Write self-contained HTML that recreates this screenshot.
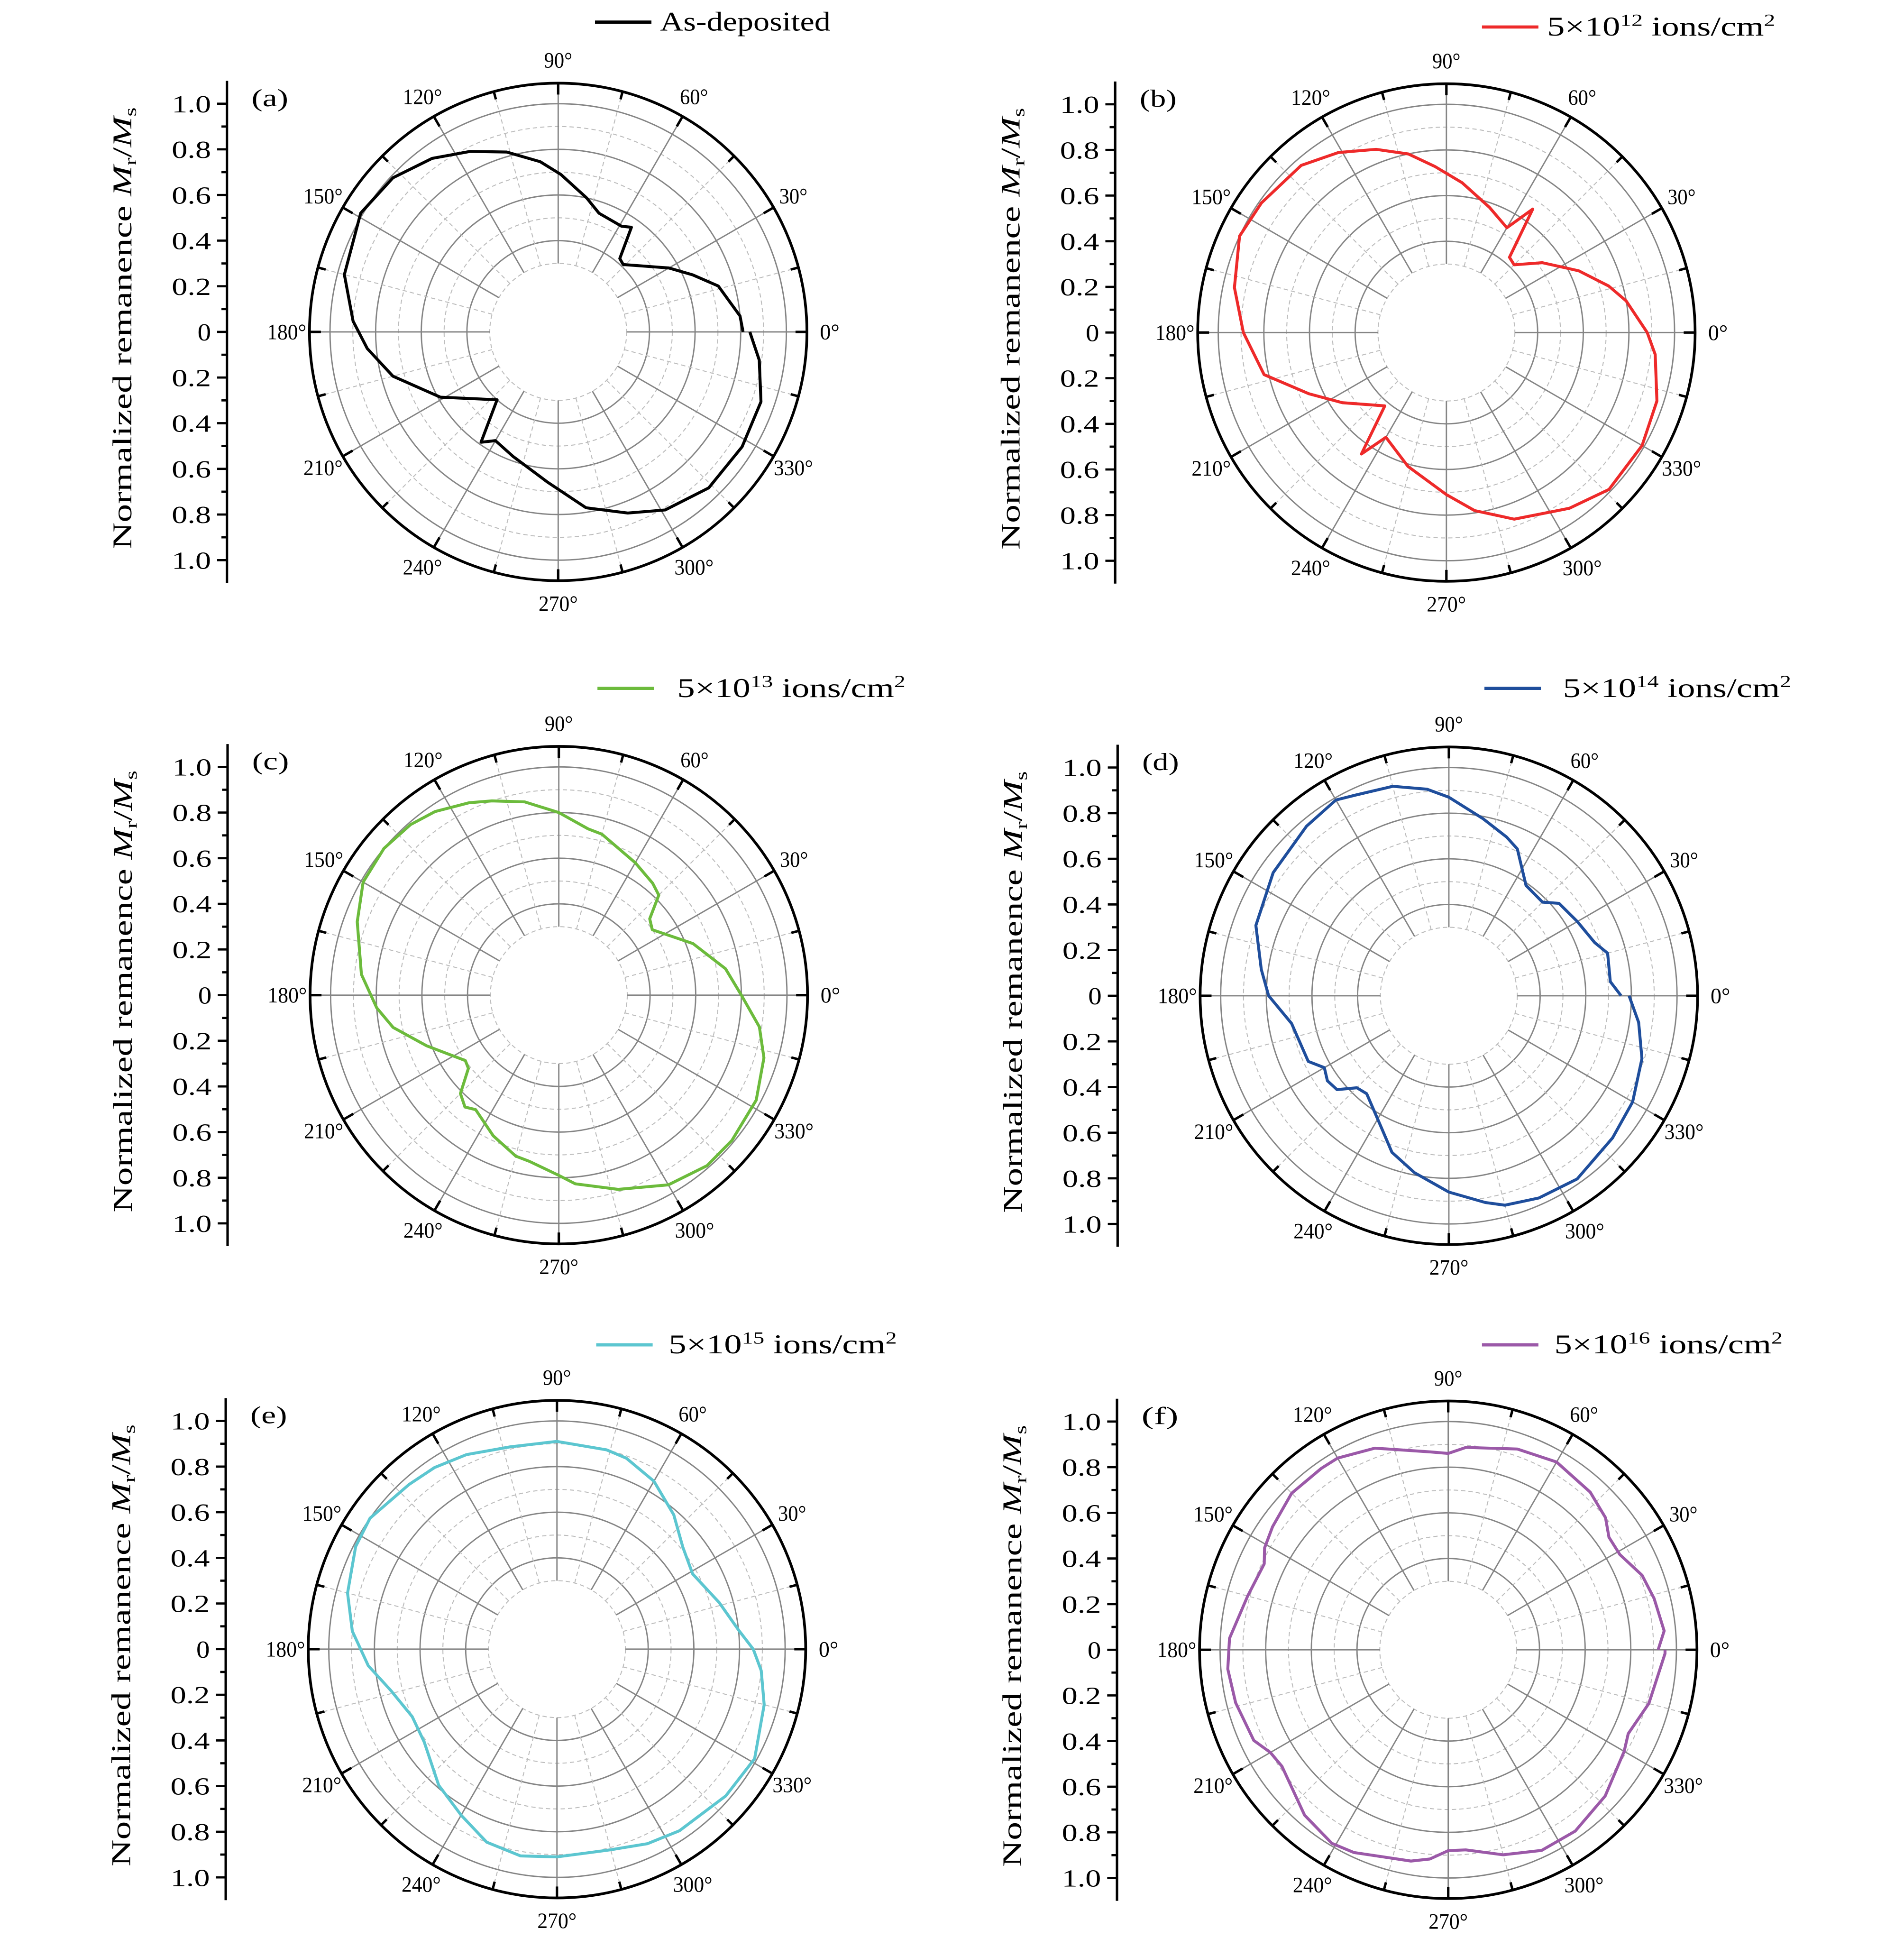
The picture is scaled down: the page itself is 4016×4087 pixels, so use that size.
<!DOCTYPE html>
<html><head><meta charset="utf-8">
<style>
html,body{margin:0;padding:0;background:#fff;}
svg{display:block;}
text{font-family:"Liberation Serif",serif;fill:#000;}
</style></head>
<body>
<svg id="fig" width="4016" height="4087" viewBox="0 0 1552 1579.4" preserveAspectRatio="none" xmlns="http://www.w3.org/2000/svg"></svg>
<script>
// ---- data (angle in degrees, normalized remanence) ----
const angA = [0,5,16,23,30,46,50,55,59,71,78,89,96,106,116,126,137,149,165,177,185,195,209,228,235,240,250,266,279,291,301,314,328,341,352,360];
const valA = [0.81,0.80,0.73,0.64,0.56,0.41,0.42,0.56,0.54,0.55,0.60,0.69,0.75,0.82,0.88,0.94,0.99,1.01,0.97,0.90,0.84,0.75,0.59,0.40,0.59,0.55,0.58,0.66,0.78,0.85,0.91,0.95,0.95,0.94,0.89,0.84];
const angB = [0,10,16,25,36,45,50,55,60,71,84,94,102,111,121,131,145,155,168,180,193,204,214,230,235,240,254,270,279,290,305,316,330,342,354,360];
const valB = [0.88,0.80,0.74,0.64,0.52,0.42,0.43,0.66,0.53,0.58,0.66,0.73,0.80,0.86,0.92,0.97,0.99,1.00,0.95,0.89,0.82,0.66,0.55,0.42,0.65,0.53,0.61,0.71,0.79,0.87,0.94,0.99,0.99,0.97,0.92,0.88];
const angC = [0,9,21,35,40,45,50,60,75,80,90,100,109,115,124,131,140,150,160,174,184,191,201,215,219,225,230,234,245,255,260,270,275,287,300,311,320,332,343,351,360];
const valC = [0.80,0.74,0.63,0.50,0.52,0.62,0.64,0.67,0.73,0.74,0.80,0.86,0.90,0.93,0.97,0.99,1.00,0.99,0.94,0.87,0.80,0.74,0.62,0.50,0.51,0.61,0.64,0.62,0.68,0.73,0.74,0.79,0.83,0.89,0.96,0.99,0.99,0.98,0.94,0.89,0.80];
const angD = [0,5,15,20,30,40,45,55,65,70,79,90,96,105,115,120,130,145,160,172,180,190,205,210,215,220,225,230,243,250,259,270,280,285,294,305,319,330,342,352,360];
const valD = [0.755,0.71,0.72,0.68,0.65,0.63,0.58,0.59,0.71,0.74,0.79,0.87,0.91,0.95,0.97,0.99,0.97,0.94,0.90,0.83,0.79,0.70,0.68,0.63,0.65,0.64,0.57,0.56,0.65,0.73,0.79,0.86,0.92,0.95,0.97,0.98,0.95,0.93,0.89,0.84,0.79];
const angE = [0,6,16,29,39,49,60,70,76,90,103,115,124,132,145,153,165,175,185,194,205,215,229,240,250,260,270,285,295,304,319,331,345,354,360];
const valE = [0.86,0.80,0.74,0.68,0.71,0.78,0.85,0.89,0.90,0.91,0.91,0.94,0.96,0.97,1.00,0.99,0.95,0.90,0.83,0.75,0.70,0.71,0.79,0.84,0.90,0.92,0.91,0.91,0.94,0.96,0.98,0.99,0.94,0.90,0.86];
const angF = [0,5,14,21,29,35,40,48,60,71,85,90,95,110,120,125,135,145,151,155,165,177,185,194,205,210,215,229,239,245,260,265,270,275,285,295,305,317,330,335,345,359,360];
const valF = [0.92,0.95,0.93,0.91,0.86,0.86,0.90,0.93,0.95,0.93,0.89,0.86,0.87,0.94,0.97,0.97,0.97,0.94,0.92,0.89,0.91,0.96,0.97,0.96,0.94,0.90,0.89,0.96,0.99,0.98,0.94,0.92,0.88,0.88,0.93,0.97,0.97,0.94,0.89,0.87,0.91,0.95,0.95];
const axisTicks = ["0","0.2","0.4","0.6","0.8","1.0"];
const angleTicks = [0,30,60,90,120,150,180,210,240,270,300,330];

const NS="http://www.w3.org/2000/svg";
const svg=document.getElementById('fig');
function mk(tag,attrs,parent){const e=document.createElementNS(NS,tag);for(const k in attrs)e.setAttribute(k,attrs[k]);(parent||svg).appendChild(e);return e;}
const UNIT=186, HOLE=0.3, OUTER=1.09;

function panel(cx,cy,letter,ang,val,color,legX,legY,gap,legText,sup){
  const g=mk('g',{});
  
  
  const rs=v=>v*UNIT;
  const px=(a,v)=>cx+rs(v)*Math.cos(a*Math.PI/180);
  const py=(a,v)=>cy-rs(v)*Math.sin(a*Math.PI/180);
  for(let k=3;k<=10;k++){
    const v=k/10;
    const c=mk('circle',{cx:cx,cy:cy,r:rs(v),fill:'none',stroke:k%2===0?'#858585':'#bdbdbd','stroke-width':k%2===0?1.1:0.8,'stroke-dasharray':k%2===0?'none':'3.5 2.5'},g);
    
    
  }
  for(let a=0;a<360;a+=15){
    const major=a%30===0;
    const l=mk('line',{x1:px(a,HOLE),y1:py(a,HOLE),x2:px(a,OUTER),y2:py(a,OUTER),stroke:major?'#858585':'#bdbdbd','stroke-width':major?1.1:0.8,'stroke-dasharray':major?'none':'3.5 2.5'},g);
    
    
    const t=mk('line',{x1:px(a,OUTER),y1:py(a,OUTER),x2:px(a,OUTER-(major?0.05:0.035)),y2:py(a,OUTER-(major?0.05:0.035)),stroke:'#000','stroke-width':2},g);
    
    
  }
  const oc=mk('circle',{cx:cx,cy:cy,r:rs(OUTER),fill:'none',stroke:'#000','stroke-width':2.2},g);
  
  
  angleTicks.forEach(a=>{
    const s=a+'°';
    const w=s.length===4?32:(s.length===3?23:16);
    const t=mk('text',{x:px(a,1.19)-w/2,y:py(a,1.19)+6,'font-size':18,textLength:w,lengthAdjust:'spacingAndGlyphs'},g);
    t.textContent=s;
    
    
  });
  const ax=cx-270;
  const al=mk('line',{x1:ax,y1:cy-rs(1.1),x2:ax,y2:cy+rs(1.1),stroke:'#000','stroke-width':2},g);
  
  
  for(let k=-10;k<=10;k++){
    const y=cy-rs(k/10);
    const major=k%2===0;
    const tl=mk('line',{x1:ax,y1:y,x2:ax-(major?8:4.5),y2:y,stroke:'#000','stroke-width':1.8},g);
    
    
  }
  axisTicks.forEach((lab,i)=>{
    [1,-1].forEach(s=>{
      if(i===0&&s===-1)return;
      const y=cy-s*rs(i*0.2);
      const w=lab.length===1?11:32;
      const t=mk('text',{x:ax-13-w,y:y+7,'font-size':20,textLength:w,lengthAdjust:'spacingAndGlyphs'},g);
      t.textContent=lab;
      
      
    });
  });
  const yt=mk('text',{x:-180,y:0,'font-size':22,textLength:360,lengthAdjust:'spacingAndGlyphs',transform:`translate(${ax-78},${cy-3}) rotate(-90)`},g);
  yt.innerHTML='Normalized remanence <tspan font-style="italic">M</tspan><tspan font-size="14" dy="4">r</tspan><tspan dy="-4">/</tspan><tspan font-style="italic">M</tspan><tspan font-size="14" dy="4">s</tspan>';
  
  
  const pl=mk('text',{x:ax+20,y:cy-rs(1.0)+2,'font-size':20,textLength:30,lengthAdjust:'spacingAndGlyphs'},g);
  pl.textContent='('+letter+')';
  
  
  const d=ang.map((a,i)=>(i?'L':'M')+px(a,val[i]).toFixed(1)+','+py(a,val[i]).toFixed(1)).join(' ');
  const p=mk('path',{d:d,fill:'none',stroke:color,'stroke-width':2.4,'stroke-linejoin':'round'},g);
  
  
  const lg=mk('g',{},g);
  
  
  mk('line',{x1:legX,y1:legY,x2:legX+46,y2:legY,stroke:color,'stroke-width':2.6},lg);
  if(sup){
    const lt=mk('text',{x:legX+46+gap,y:legY+7,'font-size':22,textLength:186,lengthAdjust:'spacingAndGlyphs'},lg);
    lt.innerHTML='5×10<tspan font-size="14" dy="-8">'+sup+'</tspan><tspan dy="8"> ions/cm</tspan><tspan font-size="14" dy="-8">2</tspan>';
  } else {
    const lt=mk('text',{x:legX+46+gap,y:legY+7,'font-size':22,textLength:139,lengthAdjust:'spacingAndGlyphs'},lg);
    lt.textContent=legText;
  }
}
panel(455,270.5,'a',angA,valA,'#000000',485,18,7,'As-deposited',null);
panel(1179,271,'b',angB,valB,'#ee2a2a',1208,22,7,'',12);
panel(455.5,811,'c',angC,valC,'#6cbb3c',487,561,19,'',13);
panel(1181,811.5,'d',angD,valD,'#1f4e9c',1210,561,18,'',14);
panel(454,1344,'e',angE,valE,'#5cc6d0',486,1096,13,'',15);
panel(1180.5,1344.5,'f',angF,valF,'#9b59a8',1208,1096,13,'',16);
</script>
</body></html>
